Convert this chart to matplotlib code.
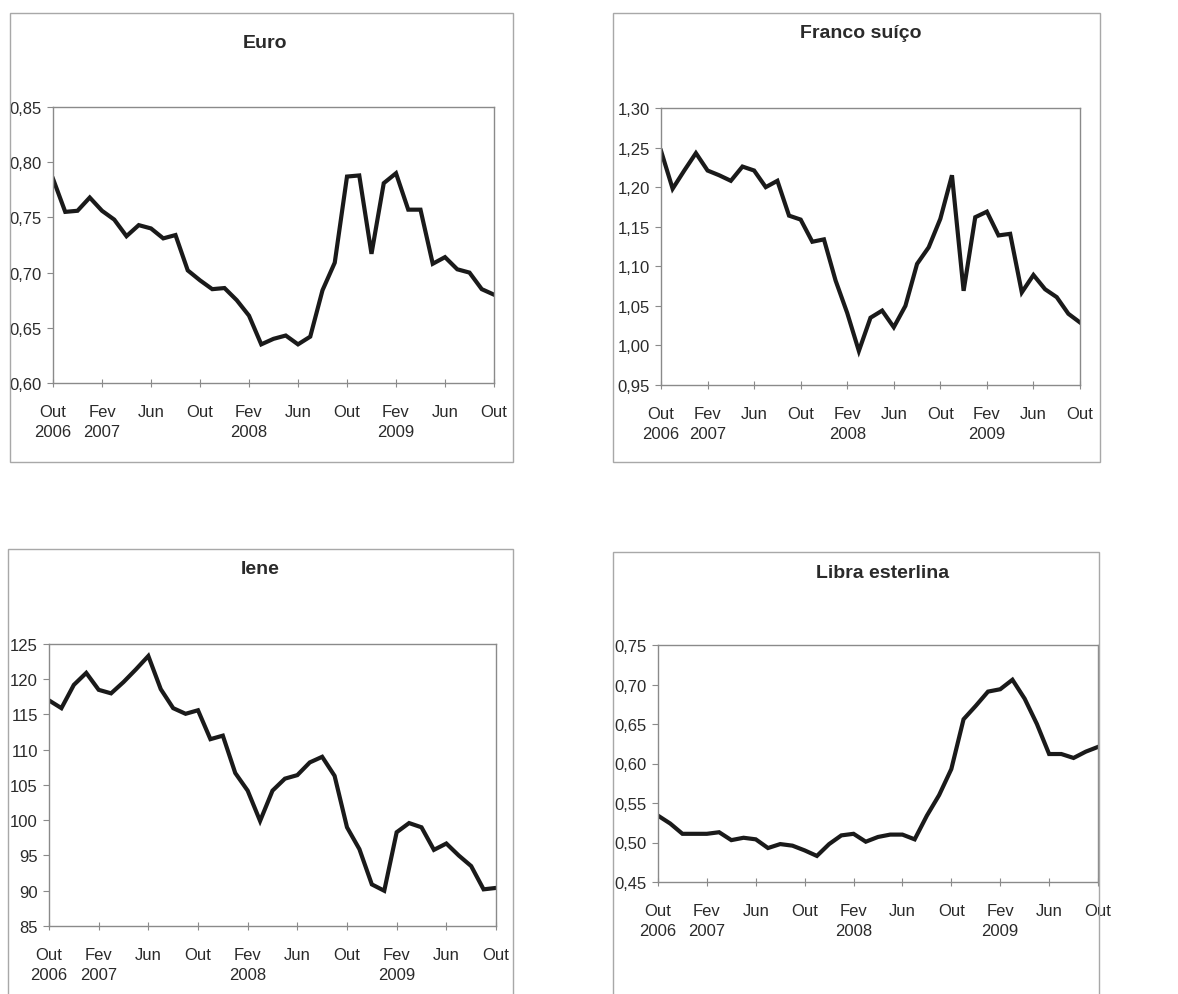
import matplotlib
matplotlib.use("Agg")
import matplotlib.pyplot as plt
from matplotlib.patches import Rectangle
from matplotlib.ticker import FixedLocator, FuncFormatter

plt.rcParams['font.family'] = ['Liberation Sans', 'DejaVu Sans']

# Monthly averages, Oct 2006 .. Oct 2009 (37 months)
months = list(range(37))

euro = [0.785, 0.755, 0.756, 0.768, 0.756, 0.748, 0.733, 0.743, 0.740, 0.731,
        0.734, 0.702, 0.693, 0.685, 0.686, 0.675, 0.661, 0.635, 0.640, 0.643,
        0.635, 0.642, 0.684, 0.709, 0.787, 0.788, 0.717, 0.781, 0.790, 0.757,
        0.757, 0.708, 0.714, 0.703, 0.700, 0.685, 0.680]

franco_suico = [1.246, 1.198, 1.221, 1.243, 1.221, 1.215, 1.208, 1.226, 1.221, 1.200,
                1.208, 1.164, 1.159, 1.131, 1.134, 1.082, 1.041, 0.993, 1.035, 1.044,
                1.023, 1.050, 1.103, 1.124, 1.160, 1.215, 1.069, 1.162, 1.169, 1.139,
                1.141, 1.067, 1.089, 1.071, 1.061, 1.040, 1.029]

iene = [117.0, 115.9, 119.2, 120.9, 118.5, 118.0, 119.6, 121.4, 123.3, 118.6,
        115.9, 115.1, 115.6, 111.5, 112.0, 106.7, 104.2, 99.9, 104.2, 105.9,
        106.4, 108.2, 109.0, 106.3, 99.0, 95.9, 90.9, 90.0, 98.3, 99.6,
        99.0, 95.8, 96.7, 95.0, 93.5, 90.2, 90.4]

libra = [0.534, 0.524, 0.511, 0.511, 0.511, 0.513, 0.503, 0.506, 0.504, 0.493,
         0.498, 0.496, 0.490, 0.483, 0.498, 0.509, 0.511, 0.501, 0.507, 0.510,
         0.510, 0.504, 0.534, 0.560, 0.593, 0.656, 0.673, 0.691, 0.694, 0.706,
         0.682, 0.650, 0.612, 0.612, 0.607, 0.615, 0.621]

tick_months = [0, 4, 8, 12, 16, 20, 24, 28, 32, 36]
tick_labels = ["Out\n2006", "Fev\n2007", "Jun", "Out", "Fev\n2008",
               "Jun", "Out", "Fev\n2009", "Jun", "Out"]

W, H = 1178, 995
fig = plt.figure(figsize=(W / 100, H / 100), dpi=100)
fig.patch.set_facecolor('white')

TXT = '#2a2a2a'
GRID = '#8a8a8a'


def px_rect(l, t, r, b):
    return [l / W, 1 - b / H, (r - l) / W, (b - t) / H]


def panel(frame, axbox, title, title_xy, series, ylim, yticks, fmt):
    l, t, r, b = frame
    fig.add_artist(Rectangle((l / W, 1 - b / H), (r - l) / W, (b - t) / H,
                             transform=fig.transFigure, fill=False,
                             edgecolor='#a8a8a8', lw=1.0))
    fig.text(title_xy[0] / W, 1 - title_xy[1] / H, title, ha='center',
             va='center', fontsize=14, fontweight='bold', color=TXT)
    ax = fig.add_axes(px_rect(*axbox))
    ax.plot(months, series, color='#1a1a1a', lw=3.0, solid_joinstyle='miter')
    ax.set_xlim(0, 36)
    ax.set_ylim(*ylim)
    ax.xaxis.set_major_locator(FixedLocator(tick_months))
    ax.set_xticklabels(tick_labels, fontsize=12, color=TXT, linespacing=1.4)
    ax.yaxis.set_major_locator(FixedLocator(yticks))
    ax.yaxis.set_major_formatter(FuncFormatter(fmt))
    ax.tick_params(axis='y', labelsize=12, labelcolor=TXT, length=4,
                   color=GRID, pad=4)
    ax.tick_params(axis='x', length=6, color=GRID, pad=12, direction='inout')
    for s in ax.spines.values():
        s.set_color(GRID)
        s.set_linewidth(1.0)
    return ax


def comma2(v, _):
    return f"{v:.2f}".replace('.', ',')


def integer(v, _):
    return f"{v:.0f}"


panel((10, 14, 513, 463), (53, 108, 494, 384), "Euro", (265, 43), euro,
      (0.60, 0.85), [0.60, 0.65, 0.70, 0.75, 0.80, 0.85], comma2)

panel((613, 14, 1100, 463), (661, 109, 1080, 386), "Franco suíço", (861, 34),
      franco_suico, (0.95, 1.30), [0.95, 1.00, 1.05, 1.10, 1.15, 1.20, 1.25, 1.30],
      comma2)

panel((8, 550, 513, 1010), (49, 645, 496, 927), "Iene", (260, 570), iene,
      (85, 125), [85, 90, 95, 100, 105, 110, 115, 120, 125], integer)

panel((613, 553, 1099, 1010), (658, 646, 1098, 883), "Libra esterlina", (883, 573),
      libra, (0.45, 0.75), [0.45, 0.50, 0.55, 0.60, 0.65, 0.70, 0.75], comma2)

fig.savefig("out.png", dpi=100, facecolor='white')
